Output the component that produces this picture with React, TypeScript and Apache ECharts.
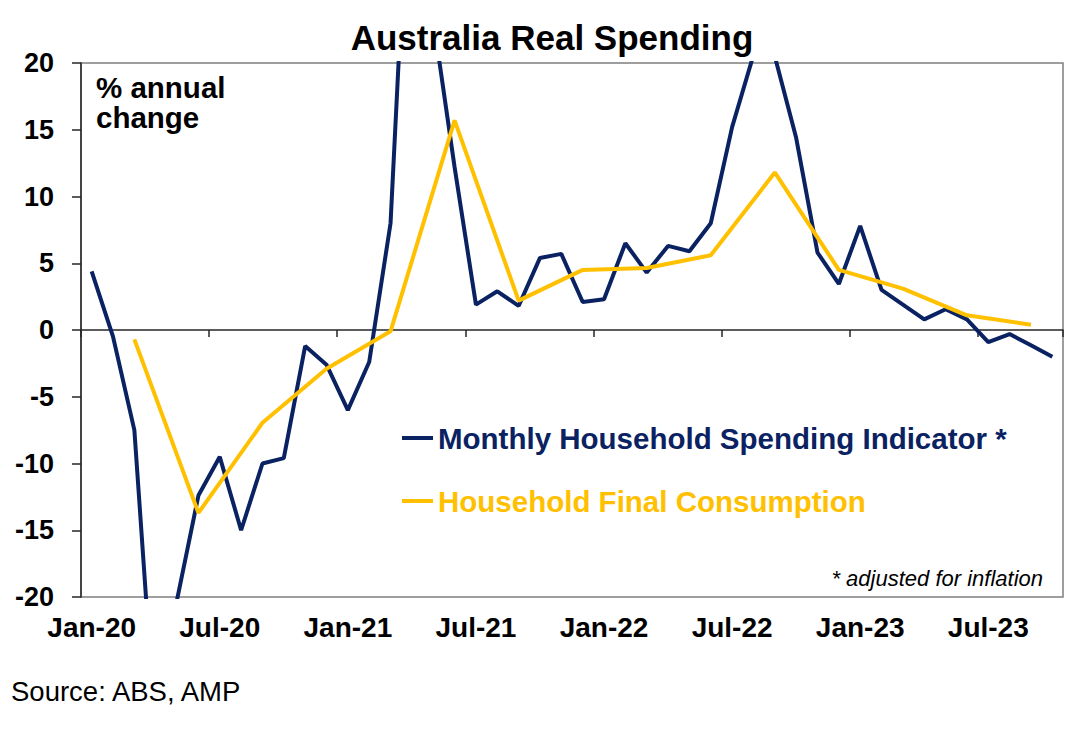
import React, { useEffect, useRef } from "react";
import * as echarts from "echarts";

const CATEGORIES = [
  "Jan-20", "Feb-20", "Mar-20", "Apr-20", "May-20", "Jun-20", "Jul-20", "Aug-20", "Sep-20", "Oct-20", "Nov-20", "Dec-20",
  "Jan-21", "Feb-21", "Mar-21", "Apr-21", "May-21", "Jun-21", "Jul-21", "Aug-21", "Sep-21", "Oct-21", "Nov-21", "Dec-21",
  "Jan-22", "Feb-22", "Mar-22", "Apr-22", "May-22", "Jun-22", "Jul-22", "Aug-22", "Sep-22", "Oct-22", "Nov-22", "Dec-22",
  "Jan-23", "Feb-23", "Mar-23", "Apr-23", "May-23", "Jun-23", "Jul-23", "Aug-23", "Sep-23", "Oct-23",
];

// Monthly Household Spending Indicator, % annual change (values beyond ±20 are clipped in the chart)
const MHSI_VALUES = [
  4.4, -0.5, -7.5, -30.5, -20.2, -12.4, -9.5, -15.0, -10.0, -9.6, -1.2, -2.6,
  -6.0, -2.4, 8.0, 40.0, 23.3, 12.2, 1.9, 2.9, 1.8, 5.4, 5.7, 2.1,
  2.3, 6.5, 4.3, 6.3, 5.9, 8.0, 15.2, 20.6, 20.5, 14.4, 5.8, 3.45,
  7.8, 3.0, 1.9, 0.8, 1.55, 0.8, -0.9, -0.3, -1.15, -2.0,
];

// Household Final Consumption (quarterly)
const HFC_QUARTERS = [
  "Mar-20", "Jun-20", "Sep-20", "Dec-20", "Mar-21", "Jun-21", "Sep-21", "Dec-21",
  "Mar-22", "Jun-22", "Sep-22", "Dec-22", "Mar-23", "Jun-23", "Sep-23",
];
const HFC_VALUES = [-0.7, -13.7, -6.95, -2.9, -0.1, 15.7, 2.2, 4.5, 4.65, 5.6, 11.8, 4.5, 3.1, 1.1, 0.4];

const Y_MIN = -20;
const Y_MAX = 20;
const Y_STEP = 5;

const SERIES_NAMES = ["Monthly Household Spending Indicator *", "Household Final Consumption"];
const NAVY = "#0A2262";
const GOLD = "#FFC000";
const FONT = "'Liberation Sans', Arial, Helvetica, sans-serif";

export default function App() {
  const ref = useRef<HTMLDivElement>(null);

  useEffect(() => {
    if (!ref.current) return;
    const chart = echarts.init(ref.current, null, { renderer: "svg" });

    const hfcData = CATEGORIES.map((c) => {
      const i = HFC_QUARTERS.indexOf(c);
      return i >= 0 ? HFC_VALUES[i] : null;
    });
    const halfYear = (index: number) => index % 6 === 0;

    const option: any = {
      animation: false,
      backgroundColor: "#ffffff",
      textStyle: { fontFamily: FONT },
      title: {
        text: "Australia Real Spending",
        left: 552,
        top: 20,
        textAlign: "center",
        padding: 0,
        textStyle: { fontSize: 35, fontWeight: "bold", color: "#000", fontFamily: FONT },
      },
      legend: {
        orient: "vertical",
        left: 402,
        top: 423,
        padding: 0,
        itemGap: 33,
        itemWidth: 31,
        itemHeight: 4,
        icon: "rect",
        selectedMode: false,
        textStyle: { fontSize: 29.5, fontWeight: "bold", fontFamily: FONT },
        data: [
          { name: SERIES_NAMES[0], textStyle: { color: NAVY } },
          { name: SERIES_NAMES[1], textStyle: { color: GOLD } },
        ],
      },
      grid: {
        left: 81,
        right: 27,
        top: 63,
        bottom: 138,
        show: true,
        borderColor: "#7f7f7f",
        borderWidth: 1.5,
        containLabel: false,
        outerBoundsMode: "none",
      },
      xAxis: [
        {
          type: "category",
          data: CATEGORIES,
          boundaryGap: true,
          position: "bottom",
          axisLine: { show: false, onZero: false },
          axisTick: { show: false },
          splitLine: { show: false },
          axisLabel: {
            interval: halfYear,
            fontSize: 28,
            fontWeight: "bold",
            color: "#000",
            margin: 16,
            fontFamily: FONT,
          },
        },
        {
          type: "category",
          data: CATEGORIES,
          boundaryGap: true,
          position: "bottom",
          axisLine: { show: true, onZero: true, lineStyle: { color: "#262626", width: 1.5 } },
          axisTick: { show: true, interval: halfYear, length: 7, lineStyle: { color: "#262626", width: 1.5 } },
          axisLabel: { show: false },
          splitLine: { show: false },
        },
      ],
      yAxis: {
        type: "value",
        min: Y_MIN,
        max: Y_MAX,
        interval: Y_STEP,
        axisLine: { show: true, onZero: false, lineStyle: { color: "#262626", width: 1.5 } },
        axisTick: { show: true, length: 9, lineStyle: { color: "#262626", width: 1.5 } },
        splitLine: { show: false },
        axisLabel: { fontSize: 27, fontWeight: "bold", color: "#000", margin: 27, fontFamily: FONT },
      },
      series: [
        {
          name: SERIES_NAMES[0],
          type: "line",
          xAxisIndex: 0,
          data: MHSI_VALUES,
          symbol: "none",
          clip: true,
          z: 2,
          itemStyle: { color: NAVY },
          lineStyle: { color: NAVY, width: 4 },
        },
        {
          name: SERIES_NAMES[1],
          type: "line",
          xAxisIndex: 0,
          data: hfcData,
          connectNulls: true,
          symbol: "none",
          clip: true,
          z: 3,
          itemStyle: { color: GOLD },
          lineStyle: { color: GOLD, width: 4 },
        },
      ],
      graphic: [
        {
          type: "text",
          left: 96,
          top: 72,
          style: {
            text: "% annual\nchange",
            fontSize: 29.5,
            fontWeight: "bold",
            lineHeight: 30,
            fill: "#000",
            fontFamily: FONT,
          },
        },
        {
          type: "text",
          right: 47,
          top: 567,
          style: {
            text: "* adjusted for inflation",
            fontSize: 22,
            fontStyle: "italic",
            fill: "#000",
            fontFamily: FONT,
          },
        },
        {
          type: "text",
          left: 11,
          top: 677,
          style: {
            text: "Source: ABS, AMP",
            fontSize: 27.5,
            fill: "#000",
            fontFamily: FONT,
          },
        },
      ],
    };

    chart.setOption(option);
    return () => chart.dispose();
  }, []);

  return (
    <div
      ref={ref}
      style={{ position: "fixed", left: 0, top: 0, width: 1090, height: 735, background: "#fff" }}
    />
  );
}
